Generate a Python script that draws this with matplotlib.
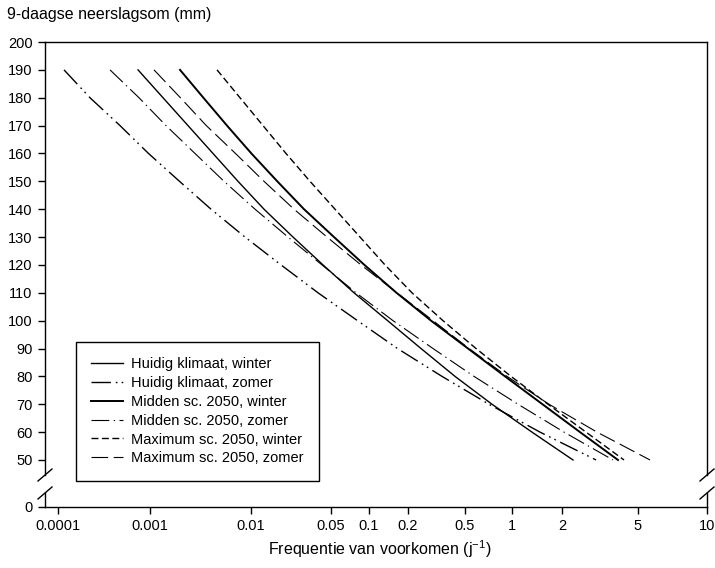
import numpy as np
import matplotlib
matplotlib.use("Agg")
import matplotlib.pyplot as plt

plt.rcParams['font.family'] = ['Liberation Sans', 'DejaVu Sans']
plt.rcParams['mathtext.fontset'] = 'custom'
plt.rcParams['mathtext.rm'] = 'Liberation Sans'
plt.rcParams['mathtext.it'] = 'Liberation Sans:italic'
plt.rcParams['mathtext.bf'] = 'Liberation Sans:bold'

# ---------------- data ----------------
amounts = [190, 180, 170, 160, 150, 140, 130, 120, 110, 100, 90, 80, 70, 60, 50]   # mm
freq_huidig_winter = [7.41e-4, 1.345e-3, 2.378e-3, 4.205e-3, 7.435e-3, 0.01299, 0.02328,
                      0.04257, 0.07606, 0.1392, 0.2465, 0.4258, 0.7447, 1.319, 2.284]
freq_huidig_zomer = [1.162e-4, 2.227e-4, 4.72e-4, 9.63e-4, 1.959e-3, 4.018e-3, 8.72e-3,
                     0.01829, 0.0385, 0.0811, 0.1659, 0.3454, 0.7121, 1.474, 3.014]
freq_midden_winter = [1.982e-3, 3.378e-3, 5.786e-3, 0.01008, 0.01697, 0.02905, 0.05282,
                      0.09199, 0.163, 0.2895, 0.5226, 0.902, 1.526, 2.485, 3.929]
freq_midden_zomer = [3.674e-4, 7.592e-4, 1.44e-3, 2.789e-3, 5.404e-3, 0.01084, 0.02105,
                     0.04171, 0.0789, 0.1532, 0.2989, 0.571, 1.087, 2.049, 3.7]
freq_max_winter = [4.607e-3, 7.782e-3, 0.01273, 0.02022, 0.03278, 0.05379, 0.08488,
                   0.1329, 0.2132, 0.351, 0.5881, 0.9856, 1.647, 2.671, 4.225]
freq_max_zomer = [1.095e-3, 2.0e-3, 3.609e-3, 7.022e-3, 0.01299, 0.02375, 0.04615,
                  0.08644, 0.1644, 0.2989, 0.5304, 0.9292, 1.67, 3.05, 5.642]

series_labels = ["Huidig klimaat, winter", "Huidig klimaat, zomer",
                 "Midden sc. 2050, winter", "Midden sc. 2050, zomer",
                 "Maximum sc. 2050, winter", "Maximum sc. 2050, zomer"]

x_ticks = [0.0001, 0.001, 0.01, 0.05, 0.1, 0.2, 0.5, 1, 2, 5, 10]
x_tick_labels = ["0.0001", "0.001", "0.01", "0.05", "0.1", "0.2", "0.5", "1", "2", "5", "10"]
y_ticks = [0, 50, 60, 70, 80, 90, 100, 110, 120, 130, 140, 150, 160, 170, 180, 190, 200]
y_tick_labels = [str(v) for v in y_ticks]

# ---------------- axis scales ----------------
# frequency axis of the original paper (non-uniform, stretched towards high frequencies)
_L = np.array([-4.5, -4, -3, -2, np.log10(0.05), -1, np.log10(0.2), np.log10(0.5),
               0, np.log10(2), np.log10(5), 1, 1.5])
_P = np.array([12, 58, 150, 251, 331, 369, 408, 465, 512, 562, 638, 707, 822], float)

def xf(x):
    x = np.asarray(x, float)
    return np.interp(np.log10(np.clip(x, 1e-12, None)), _L, _P)

def xi(p):
    return 10 ** np.interp(np.asarray(p, float), _P, _L)

# broken y axis: 0..50 compressed
_K = 0.3375
def yf(y):
    y = np.asarray(y, float)
    return np.where(y >= 50, y, 50 - (50 - y) * _K)

def yi(p):
    p = np.asarray(p, float)
    return np.where(p >= 50, p, 50 - (50 - p) / _K)

W, H = 715, 568
fig = plt.figure(figsize=(W / 100, H / 100), dpi=100)
ax_l, ax_r, ax_t, ax_b = 45, 707, 42, 507
ax = fig.add_axes([ax_l / W, 1 - ax_b / H, (ax_r - ax_l) / W, (ax_b - ax_t) / H])
ax.set_xscale('function', functions=(xf, xi))
ax.set_yscale('function', functions=(yf, yi))

styles = [
    dict(ls='-', lw=1.0),
    dict(ls=(0, (14, 3.5, 1.2, 3, 1.2, 3.5)), lw=1.0),
    dict(ls='-', lw=1.4),
    dict(ls=(0, (16, 4, 1.2, 4)), lw=0.8),
    dict(ls=(0, (5, 2.5)), lw=1.0),
    dict(ls=(0, (15, 5)), lw=0.8),
]
all_freqs = [freq_huidig_winter, freq_huidig_zomer, freq_midden_winter,
             freq_midden_zomer, freq_max_winter, freq_max_zomer]
for fr, lab, st in zip(all_freqs, series_labels, styles):
    ax.plot(fr, amounts, color='black', label=lab, **st)

ax.set_xlim(float(xi(45)), 10)
ax.set_ylim(0, 200)
ax.set_xticks(x_ticks)
ax.set_xticklabels(x_tick_labels)
ax.xaxis.set_minor_locator(matplotlib.ticker.NullLocator())
ax.set_yticks(y_ticks)
ax.set_yticklabels(y_tick_labels)
ax.yaxis.set_minor_locator(matplotlib.ticker.NullLocator())
ax.tick_params(axis='both', direction='out', length=5, width=1.0, labelsize=10.5,
               colors='black', pad=4)

for s in ['top', 'bottom']:
    ax.spines[s].set_linewidth(1.0)
for s in ['left', 'right']:
    ax.spines[s].set_visible(False)

# manual left/right spines with break marks
def yfrac(py):
    return (ax_b - py) / (ax_b - ax_t)
g_top, g_bot = yfrac(475), yfrac(493)
dx = 7 / (ax_r - ax_l)
dy = 6 / (ax_b - ax_t)
for xs in (0, 1):
    ax.plot([xs, xs], [g_top, 1], transform=ax.transAxes, color='black', lw=1.0, clip_on=False)
    ax.plot([xs, xs], [0, g_bot], transform=ax.transAxes, color='black', lw=1.0, clip_on=False)
    for yc in (g_top, g_bot):
        ax.plot([xs - dx, xs + dx], [yc - dy, yc + dy], transform=ax.transAxes,
                color='black', lw=1.0, clip_on=False)

leg = ax.legend(loc='upper left', bbox_to_anchor=((76 - ax_l) / (ax_r - ax_l), yfrac(342)),
                borderaxespad=0, frameon=True, fancybox=False, framealpha=1,
                edgecolor='black', fontsize=10.5, handlelength=2.2, handletextpad=0.55,
                labelspacing=0.33, borderpad=1.05)
leg.get_frame().set_linewidth(1.0)

fig.text(7 / W, 1 - 15 / H, "9-daagse neerslagsom (mm)", ha='left', va='center', fontsize=11.5)
fig.text(380 / W, 1 - 549 / H, "Frequentie van voorkomen (j$^{-1}$)", ha='center', va='center',
         fontsize=11.5)

fig.savefig("out.png", dpi=100)
